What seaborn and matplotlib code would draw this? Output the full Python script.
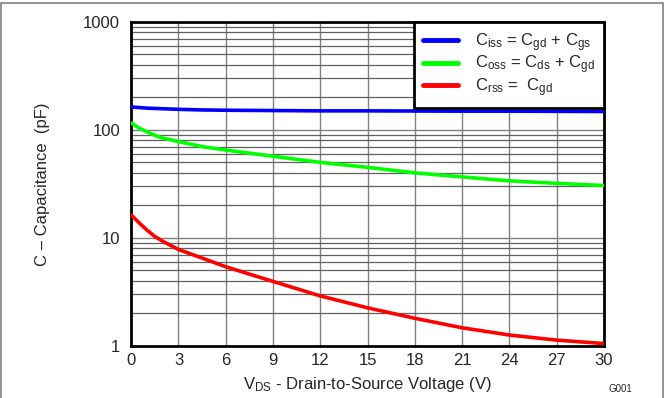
import matplotlib
matplotlib.use("Agg")
import matplotlib.pyplot as plt
import seaborn as sns
import pandas as pd
import numpy as np
from matplotlib.patches import Rectangle
from matplotlib.ticker import LogLocator, FixedLocator, NullFormatter

# ---- data ----
vds = [0, 0.5, 1, 1.5, 2, 3, 4.5, 6, 9, 12, 15, 18, 21, 24, 27, 30]
ciss = [163, 161, 159, 158, 157, 155, 153, 152, 151, 150, 150, 149.5, 149, 149, 148.5, 148]
coss = [116, 104, 96, 89, 84, 78, 70, 65, 57, 50, 45, 40, 36.7, 33.7, 32, 30.5]
crss = [16.3, 13.8, 11.8, 10.3, 9.3, 7.8, 6.5, 5.4, 3.95, 2.9, 2.25, 1.8, 1.47, 1.26, 1.13, 1.05]

series_labels = [r"C$_{\rm iss}$ = C$_{\rm gd}$ + C$_{\rm gs}$",
                 r"C$_{\rm oss}$ = C$_{\rm ds}$ + C$_{\rm gd}$",
                 r"C$_{\rm rss}$ =  C$_{\rm gd}$"]
series_colors = ["#0000ff", "#00ff00", "#ff0000"]
x_ticks = [0, 3, 6, 9, 12, 15, 18, 21, 24, 27, 30]
y_ticks = [1, 10, 100, 1000]
y_ticklabels = ["1", "10", "100", "1000"]

df = pd.DataFrame({
    "V": vds * 3,
    "C": ciss + coss + crss,
    "series": [series_labels[0]] * len(vds) + [series_labels[1]] * len(vds) + [series_labels[2]] * len(vds),
})

sns.set_style("white")
plt.rcParams["font.family"] = ["Liberation Sans", "DejaVu Sans"]
plt.rcParams["mathtext.fontset"] = "custom"
plt.rcParams["mathtext.rm"] = "Liberation Sans"
plt.rcParams["mathtext.it"] = "Liberation Sans"

fig = plt.figure(figsize=(6.66, 3.98), dpi=100)
ax = fig.add_axes([0.197, 0.131, 0.710, 0.814])

sns.lineplot(data=df, x="V", y="C", hue="series", hue_order=series_labels,
             palette=series_colors, linewidth=2.6, ax=ax, legend=True, zorder=5)

ax.set_yscale("log")
ax.set_xlim(0, 30)
ax.set_ylim(1, 1000)
ax.xaxis.set_major_locator(FixedLocator(x_ticks))
ax.set_xticklabels([str(t) for t in x_ticks])
ax.yaxis.set_major_locator(FixedLocator(y_ticks))
ax.set_yticklabels(y_ticklabels)
ax.yaxis.set_minor_locator(LogLocator(base=10, subs=np.arange(2, 10)))
ax.yaxis.set_minor_formatter(NullFormatter())

ax.grid(True, which="major", axis="both", color="#808080", linewidth=1.0)
ax.grid(True, which="minor", axis="y", color="#606060", linewidth=0.9)
ax.set_axisbelow(True)
ax.tick_params(axis="y", which="both", length=0, labelsize=12, pad=8)
ax.tick_params(axis="x", which="both", length=0, labelsize=12, pad=5)

for s in ax.spines.values():
    s.set_color("black")
    s.set_linewidth(2)

ax.set_xlabel(r"V$_{\rm DS}$ - Drain-to-Source Voltage (V)", fontsize=12, labelpad=5)
ax.set_ylabel("C – Capacitance  (pF)", fontsize=12, labelpad=24)

leg = ax.legend(loc="upper right", fontsize=12, frameon=True, fancybox=False,
                borderaxespad=0, handlelength=2.1, handletextpad=1.0,
                borderpad=0.55, labelspacing=0.0)
leg.get_frame().set_edgecolor("black")
leg.get_frame().set_linewidth(2)
leg.get_frame().set_facecolor("white")
leg.get_frame().set_alpha(1)
leg.set_zorder(10)
for h in leg.legend_handles:
    h.set_linewidth(3.5)

fig.text(0.914, 0.010, "G001", fontsize=7, ha="left", va="bottom")
fig.patches.append(Rectangle((0.002, -0.02), 0.994, 1.012, transform=fig.transFigure,
                             fill=False, edgecolor="#808080", linewidth=1.2))

fig.savefig("out.png", dpi=100)
